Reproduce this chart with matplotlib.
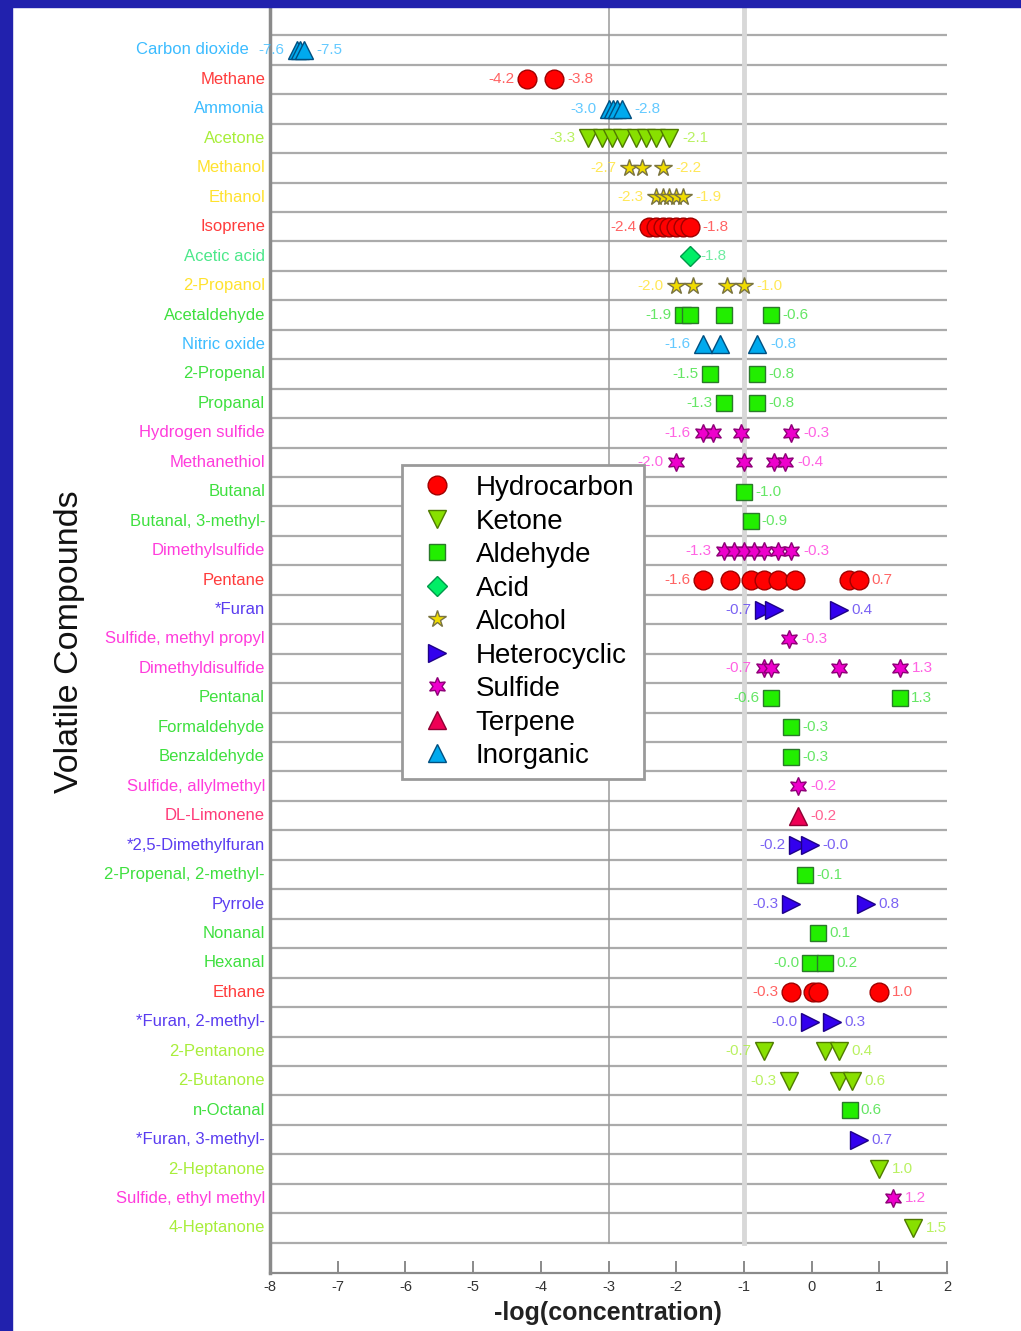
import numpy as np
import matplotlib.pyplot as plt
from matplotlib.lines import Line2D
from matplotlib.patches import Rectangle

plt.rcParams['font.family'] = ['Liberation Sans', 'DejaVu Sans']

# compounds listed top to bottom
compounds = [
    'Carbon dioxide', 'Methane', 'Ammonia', 'Acetone', 'Methanol', 'Ethanol',
    'Isoprene', 'Acetic acid', '2-Propanol', 'Acetaldehyde', 'Nitric oxide',
    '2-Propenal', 'Propanal', 'Hydrogen sulfide', 'Methanethiol', 'Butanal',
    'Butanal, 3-methyl-', 'Dimethylsulfide', 'Pentane', '*Furan',
    'Sulfide, methyl propyl', 'Dimethyldisulfide', 'Pentanal', 'Formaldehyde',
    'Benzaldehyde', 'Sulfide, allylmethyl', 'DL-Limonene', '*2,5-Dimethylfuran',
    '2-Propenal, 2-methyl-', 'Pyrrole', 'Nonanal', 'Hexanal', 'Ethane',
    '*Furan, 2-methyl-', '2-Pentanone', '2-Butanone', 'n-Octanal',
    '*Furan, 3-methyl-', '2-Heptanone', 'Sulfide, ethyl methyl', '4-Heptanone',
]

groups = [
    'Inorganic', 'Hydrocarbon', 'Inorganic', 'Ketone', 'Alcohol', 'Alcohol',
    'Hydrocarbon', 'Acid', 'Alcohol', 'Aldehyde', 'Inorganic',
    'Aldehyde', 'Aldehyde', 'Sulfide', 'Sulfide', 'Aldehyde',
    'Aldehyde', 'Sulfide', 'Hydrocarbon', 'Heterocyclic',
    'Sulfide', 'Sulfide', 'Aldehyde', 'Aldehyde',
    'Aldehyde', 'Sulfide', 'Terpene', 'Heterocyclic',
    'Aldehyde', 'Heterocyclic', 'Aldehyde', 'Aldehyde', 'Hydrocarbon',
    'Heterocyclic', 'Ketone', 'Ketone', 'Aldehyde',
    'Heterocyclic', 'Ketone', 'Sulfide', 'Ketone',
]

# -log(concentration) of each reported measurement
values = [
    [-7.6, -7.55, -7.5],
    [-4.2, -3.8],
    [-3.0, -2.93, -2.87, -2.8],
    [-3.3, -3.1, -2.95, -2.8, -2.6, -2.45, -2.3, -2.1],
    [-2.7, -2.5, -2.2],
    [-2.3, -2.2, -2.1, -2.0, -1.9],
    [-2.4, -2.3, -2.2, -2.1, -2.0, -1.9, -1.8],
    [-1.8],
    [-2.0, -1.75, -1.25, -1.0],
    [-1.9, -1.8, -1.3, -0.6],
    [-1.6, -1.35, -0.8],
    [-1.5, -0.8],
    [-1.3, -0.8],
    [-1.6, -1.45, -1.05, -0.3],
    [-2.0, -1.0, -0.55, -0.4],
    [-1.0],
    [-0.9],
    [-1.3, -1.15, -1.0, -0.85, -0.7, -0.5, -0.3],
    [-1.6, -1.2, -0.9, -0.7, -0.5, -0.25, 0.55, 0.7],
    [-0.7, -0.55, 0.4],
    [-0.33],
    [-0.7, -0.6, 0.4, 1.3],
    [-0.6, 1.3],
    [-0.3],
    [-0.3],
    [-0.2],
    [-0.2],
    [-0.2, -0.02],
    [-0.1],
    [-0.3, 0.8],
    [0.1],
    [-0.02, 0.2],
    [-0.3, 0.02, 0.1, 1.0],
    [-0.02, 0.3],
    [-0.7, 0.2, 0.4],
    [-0.33, 0.4, 0.6],
    [0.56],
    [0.7],
    [1.0],
    [1.2],
    [1.5],
]

legend_order = ['Hydrocarbon', 'Ketone', 'Aldehyde', 'Acid', 'Alcohol',
                'Heterocyclic', 'Sulfide', 'Terpene', 'Inorganic']

styles = {
    'Hydrocarbon': dict(marker='o', ms=13.5, face='#ff0000', edge='#a00000', text='#ff3c3c'),
    'Ketone': dict(marker='v', ms=13, face='#88e000', edge='#4f7a00', text='#a8ee3a'),
    'Aldehyde': dict(marker='s', ms=11, face='#22ee00', edge='#2a7a2a', text='#3ee03e'),
    'Acid': dict(marker='D', ms=10, face='#00ee66', edge='#00994a', text='#4ce88a'),
    'Alcohol': dict(marker='*', ms=13, face='#f0dc00', edge='#7a7440', text='#ffe22e'),
    'Heterocyclic': dict(marker='>', ms=13, face='#3300ee', edge='#1e0088', text='#5a3cf0'),
    'Sulfide': dict(marker=(6, 1, 0), ms=13, face='#ee00cc', edge='#8e0077', text='#ff3cdc'),
    'Terpene': dict(marker='^', ms=13, face='#ee0055', edge='#8e0033', text='#ff3a78'),
    'Inorganic': dict(marker='^', ms=13, face='#00aaee', edge='#004f80', text='#3cbcff'),
}

fig = plt.figure(figsize=(10.21, 13.31), dpi=100)
fig.patch.set_facecolor('white')

# dark blue slide border on the left and top
fig.patches.append(Rectangle((0, 0), 12 / 1021, 1, transform=fig.transFigure,
                             color='#2121ad', zorder=0))
fig.patches.append(Rectangle((0, 1 - 7 / 1331), 1, 7 / 1331, transform=fig.transFigure,
                             color='#2121ad', zorder=0))

ax = fig.add_axes([270 / 1021, 58 / 1331, 677 / 1021, 1266 / 1331])
n = len(compounds)
ax.set_xlim(-8, 2)
ax.set_ylim(41.53, -1.46)

# row separators and the two reference lines
for k in range(n + 1):
    ax.plot([-8, 2], [k - 0.5, k - 0.5], color='#ababab', lw=1.6, zorder=1)
ax.plot([-3, -3], [-1.46, n - 0.5], color='#9a9a9a', lw=1.1, zorder=1)
ax.plot([-1, -1], [-1.46, n - 0.5], color='#d8d8d8', lw=3.5, zorder=1)

for i, (name, grp, vals) in enumerate(zip(compounds, groups, values)):
    st = styles[grp]
    ax.plot(vals, np.full(len(vals), i), ls='none', marker=st['marker'],
            ms=st['ms'], mfc=st['face'], mec=st['edge'], mew=1, zorder=3)
    off = st['ms'] / 2 + 2.5
    lo, hi = min(vals), max(vals)
    if len(vals) > 1:
        ax.annotate(f'{lo:.1f}', (lo, i), xytext=(-off, 0), textcoords='offset points',
                    ha='right', va='center', fontsize=11, color=st['text'], alpha=0.8, zorder=4)
    ax.annotate(f'{hi:.1f}', (hi, i), xytext=(off, 0), textcoords='offset points',
                ha='left', va='center', fontsize=11, color=st['text'], alpha=0.8, zorder=4)
    shift = 12 if i == 0 else 0
    ax.annotate(name, (0, i), xycoords=('axes fraction', 'data'),
                xytext=(-3.6 - shift, 0), textcoords='offset points',
                ha='right', va='center', fontsize=12, color=st['text'],
                annotation_clip=False)

ax.set_yticks([])
ax.set_xticks(np.arange(-8, 3))
ax.set_xticklabels([str(t) for t in range(-8, 3)])
ax.tick_params(axis='x', direction='in', length=9, width=1.4, color='#8a8a8a',
               labelsize=10.5, labelcolor='#333333', pad=5)
for side in ['top', 'right']:
    ax.spines[side].set_visible(False)
ax.spines['left'].set_color('#8a8a8a')
ax.spines['left'].set_linewidth(2.5)
ax.spines['bottom'].set_color('#8a8a8a')
ax.spines['bottom'].set_linewidth(1.6)

handles = []
for grp in legend_order:
    st = styles[grp]
    handles.append(Line2D([], [], ls='none', marker=st['marker'], ms=st['ms'],
                          mfc=st['face'], mec=st['edge'], mew=1, label=grp))
leg = ax.legend(handles=handles, loc='upper left', bbox_to_anchor=(0.195, 0.638),
                borderaxespad=0, fontsize=20, labelspacing=0.27, handlelength=1.85,
                handletextpad=0.45, borderpad=0.35, fancybox=False, framealpha=1)
leg.get_frame().set_edgecolor('#9a9a9a')
leg.get_frame().set_linewidth(2)
leg.set_zorder(10)

fig.text(70 / 1021, 1 - 642 / 1331, 'Volatile Compounds', rotation=90,
         ha='center', va='center', fontsize=24.5, color='#111111')
fig.text(608 / 1021, 1 - 1313 / 1331, '-log(concentration)', ha='center', va='center',
         fontsize=18, fontweight='bold', color='#222222')

fig.savefig('out.png', dpi=100)
